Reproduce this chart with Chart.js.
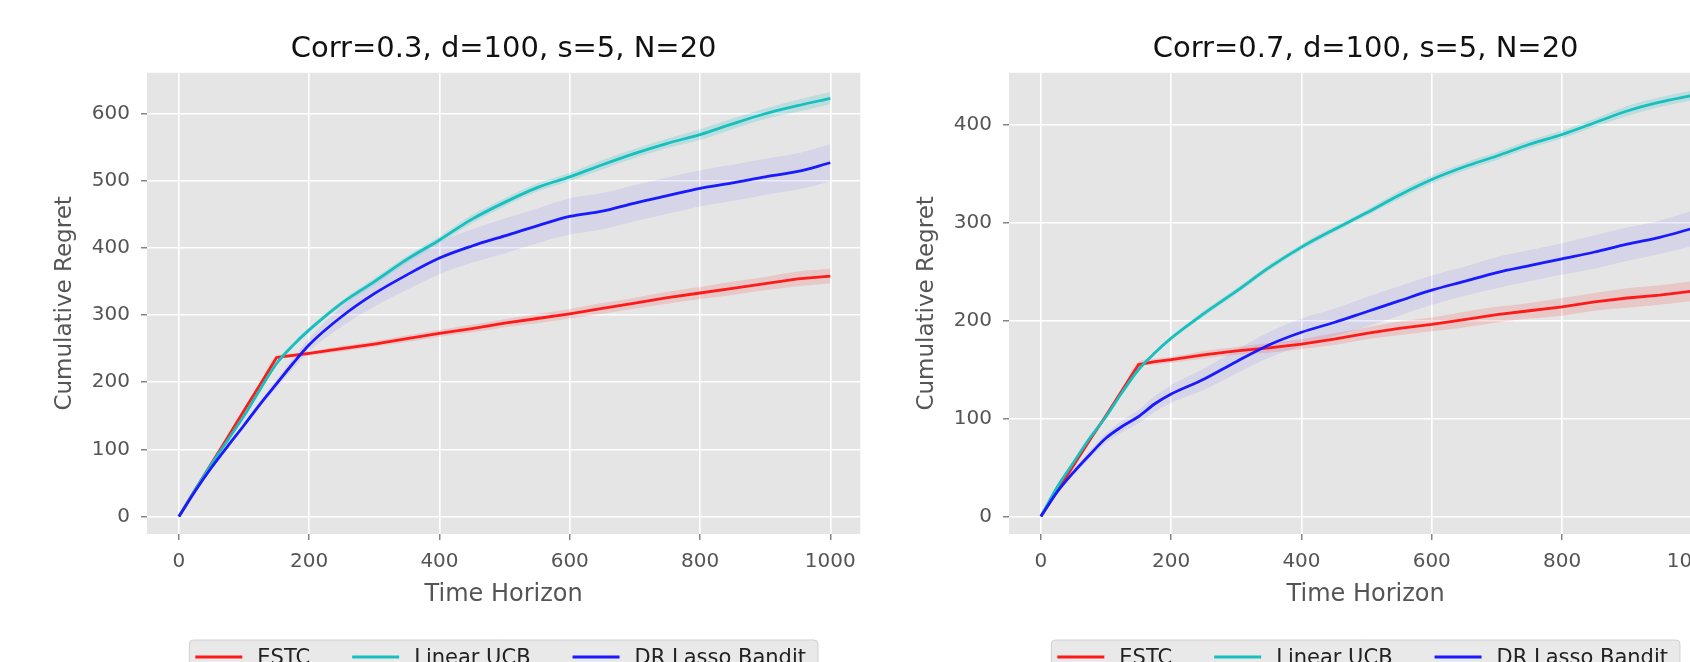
<!DOCTYPE html>
<html>
<head>
<meta charset="utf-8">
<script src="https://cdn.jsdelivr.net/npm/chart.js@4.4.1/dist/chart.umd.min.js"></script>
<style>
  html, body { margin: 0; padding: 0; background: #fff; overflow: hidden; }
  body { position: relative; width: 1690px; height: 662px; }
  .panel { position: absolute; top: 0; width: 866px; height: 700px; }
</style>
</head>
<body>
<div class="panel" style="left:0px"><canvas id="chartLeft" width="866" height="700"></canvas></div>
<div class="panel" style="left:862px"><canvas id="chartRight" width="866" height="700"></canvas></div>
<script>
const steps = [0, 25, 50, 75, 100, 125, 150, 175, 200, 250, 300, 350, 400, 450, 500,
               550, 600, 650, 700, 750, 800, 850, 900, 950, 1000];
const xTicks = [0, 200, 400, 600, 800, 1000];
const yTicksLeft = [0, 100, 200, 300, 400, 500, 600];
const yTicksRight = [0, 100, 200, 300, 400];
const seriesNames = ["ESTC", "Linear UCB", "DR Lasso Bandit"];

// Corr=0.3
const estcLeft   = [0, 40, 79, 118, 158, 197, 237, 240, 243, 250, 257, 265, 273, 280, 288, 295, 302, 310, 318, 326, 333, 340, 347, 354, 358];
const linUcbLeft = [0, 40, 78, 114, 150, 190, 228, 255, 278, 318, 350, 383, 412, 443, 468, 490, 506, 524, 541, 556, 569, 585, 600, 612, 623];
const drLeft     = [0, 38, 73, 105, 136, 168, 198, 228, 256, 298, 332, 360, 385, 403, 418, 433, 447, 455, 467, 478, 489, 497, 506, 514, 527];
const estcSpreadLeft   = [0, 1, 1, 2, 2, 2, 3, 3, 3, 4, 4, 5, 5, 6, 6, 7, 7, 8, 8, 9, 9, 10, 10, 11, 11];
const linUcbSpreadLeft = [0, 1, 2, 2, 3, 3, 3, 4, 4, 4, 5, 5, 5, 6, 6, 6, 6, 7, 7, 7, 8, 8, 8, 9, 9];
const drSpreadLeft     = [0, 1, 2, 3, 4, 5, 6, 8, 10, 15, 19, 22, 24, 25, 26, 26, 27, 27, 27, 27, 27, 27, 27, 27, 28];

// Corr=0.7
const estcRight   = [0, 26, 52, 78, 103, 129, 155, 158, 160, 165, 169, 172, 176, 181, 187, 192, 196, 201, 206, 210, 214, 219, 223, 226, 230];
const linUcbRight = [0, 30, 55, 80, 102, 127, 150, 167, 182, 207, 230, 254, 275, 293, 310, 328, 344, 357, 368, 380, 390, 402, 414, 423, 430];
const drRight     = [0, 25, 45, 63, 80, 92, 102, 115, 125, 140, 158, 175, 188, 198, 209, 220, 231, 240, 249, 256, 263, 270, 278, 285, 294];
const estcSpreadRight   = [0, 1, 1, 2, 2, 2, 3, 3, 3, 4, 4, 5, 5, 6, 6, 7, 7, 8, 8, 8, 9, 9, 10, 10, 10];
const linUcbSpreadRight = [0, 1, 1, 1, 2, 2, 2, 2, 2, 3, 3, 3, 3, 3, 3, 4, 4, 4, 4, 4, 4, 4, 5, 5, 5];
const drSpreadRight     = [0, 2, 3, 4, 5, 6, 7, 8, 9, 11, 12, 13, 14, 14, 15, 15, 15, 15, 16, 16, 16, 17, 17, 17, 18];

const lineColors = ["#ff1a1a", "#17bfbf", "#1a1aff"];
const bandColors = ["rgba(255,0,0,0.13)", "rgba(0,191,191,0.18)", "rgba(60,60,255,0.09)"];

Chart.defaults.font.family = '"DejaVu Sans", sans-serif';

const pts = (vals) => steps.map((x, i) => ({ x: x, y: vals[i] }));

function buildDatasets(means, spreads) {
  const bands = [];
  const lines = [];
  means.forEach((m, k) => {
    bands.push({
      label: "", data: pts(m.map((v, i) => v - spreads[k][i])),
      borderWidth: 0, borderColor: "transparent", pointRadius: 0, fill: false, order: 10,
      cubicInterpolationMode: "monotone"
    });
    bands.push({
      label: "", data: pts(m.map((v, i) => v + spreads[k][i])),
      borderWidth: 0, borderColor: "transparent", pointRadius: 0, fill: "-1",
      backgroundColor: bandColors[k], order: 10, cubicInterpolationMode: "monotone"
    });
    lines.push({
      label: seriesNames[k], inLegend: true, data: pts(m),
      borderColor: lineColors[k], borderWidth: 2.8, pointRadius: 0, fill: false,
      order: 2 - k, tension: 0,
      cubicInterpolationMode: k === 0 ? "default" : "monotone"
    });
  });
  return bands.concat(lines);
}

// grey panel background like the ggplot style
const panelBg = {
  id: "panelBg",
  beforeDraw(chart) {
    const { ctx, chartArea: a } = chart;
    ctx.save();
    ctx.fillStyle = "#e5e5e5";
    ctx.fillRect(a.left, a.top, a.right - a.left, a.bottom - a.top);
    ctx.restore();
  }
};

// legend box under the x axis title
const boxLegend = {
  id: "boxLegend",
  afterDraw(chart) {
    const { ctx, chartArea: a } = chart;
    const items = chart.data.datasets.filter(d => d.inLegend);
    ctx.save();
    ctx.font = '21px "DejaVu Sans"';
    const widths = items.map(d => ctx.measureText(d.label).width);
    const total = 6 + widths.reduce((s, w) => s + 62 + w, 0) + 42 * (items.length - 1) + 12;
    let x = (a.left + a.right) / 2 - total / 2;
    const top = a.bottom + 106;
    ctx.beginPath();
    ctx.roundRect(x, top, total, 44, 4);
    ctx.fillStyle = "rgba(229,229,229,0.85)";
    ctx.fill();
    ctx.strokeStyle = "#d0d0d0";
    ctx.lineWidth = 1;
    ctx.stroke();
    x += 6;
    items.forEach((d, i) => {
      ctx.beginPath();
      ctx.moveTo(x, top + 17);
      ctx.lineTo(x + 47, top + 17);
      ctx.strokeStyle = d.borderColor;
      ctx.lineWidth = 3;
      ctx.stroke();
      ctx.fillStyle = "#222";
      ctx.textBaseline = "alphabetic";
      ctx.fillText(d.label, x + 62, top + 24);
      x += 62 + widths[i] + 42;
    });
    ctx.restore();
  }
};

function makeChart(id, title, means, spreads, yMin, yMax, yTicks) {
  new Chart(document.getElementById(id), {
    type: "line",
    data: { datasets: buildDatasets(means, spreads) },
    options: {
      responsive: false,
      devicePixelRatio: 1,
      animation: false,
      layout: { padding: { left: 40, right: 4, top: 0, bottom: 89 } },
      plugins: {
        legend: { display: false },
        tooltip: { enabled: false },
        title: {
          display: true, text: title, fullSize: false, color: "#111",
          font: { size: 29, weight: "normal" }, padding: { top: 32, bottom: 6 }
        }
      },
      scales: {
        x: {
          type: "linear", min: -49, max: 1046,
          afterBuildTicks: s => { s.ticks = xTicks.map(v => ({ value: v })); },
          afterFit: s => { s.height = 77; },
          border: { display: false },
          grid: { color: "#ffffff", lineWidth: 1.6, tickColor: "#666", tickLength: 6, tickWidth: 1.2 },
          ticks: { color: "#555", font: { size: 20 }, padding: 10, maxRotation: 0, callback: v => String(v) },
          title: { display: true, text: "Time Horizon", color: "#555", font: { size: 24 }, padding: { top: 0, bottom: 2 } }
        },
        y: {
          type: "linear", min: yMin, max: yMax,
          afterBuildTicks: s => { s.ticks = yTicks.map(v => ({ value: v })); },
          afterFit: s => { s.width = 107; },
          border: { display: false },
          grid: { color: "#ffffff", lineWidth: 1.6, tickColor: "#666", tickLength: 6, tickWidth: 1.2 },
          ticks: { color: "#555", font: { size: 20 }, padding: 11, callback: v => String(v) },
          title: { display: true, text: "Cumulative Regret", color: "#555", font: { size: 23 }, padding: { top: 11, bottom: 0 } }
        }
      }
    },
    plugins: [panelBg, boxLegend]
  });
}

makeChart("chartLeft", "Corr=0.3, d=100, s=5, N=20",
  [estcLeft, linUcbLeft, drLeft], [estcSpreadLeft, linUcbSpreadLeft, drSpreadLeft],
  -26, 661, yTicksLeft);
makeChart("chartRight", "Corr=0.7, d=100, s=5, N=20",
  [estcRight, linUcbRight, drRight], [estcSpreadRight, linUcbSpreadRight, drSpreadRight],
  -18, 453, yTicksRight);
</script>
</body>
</html>
